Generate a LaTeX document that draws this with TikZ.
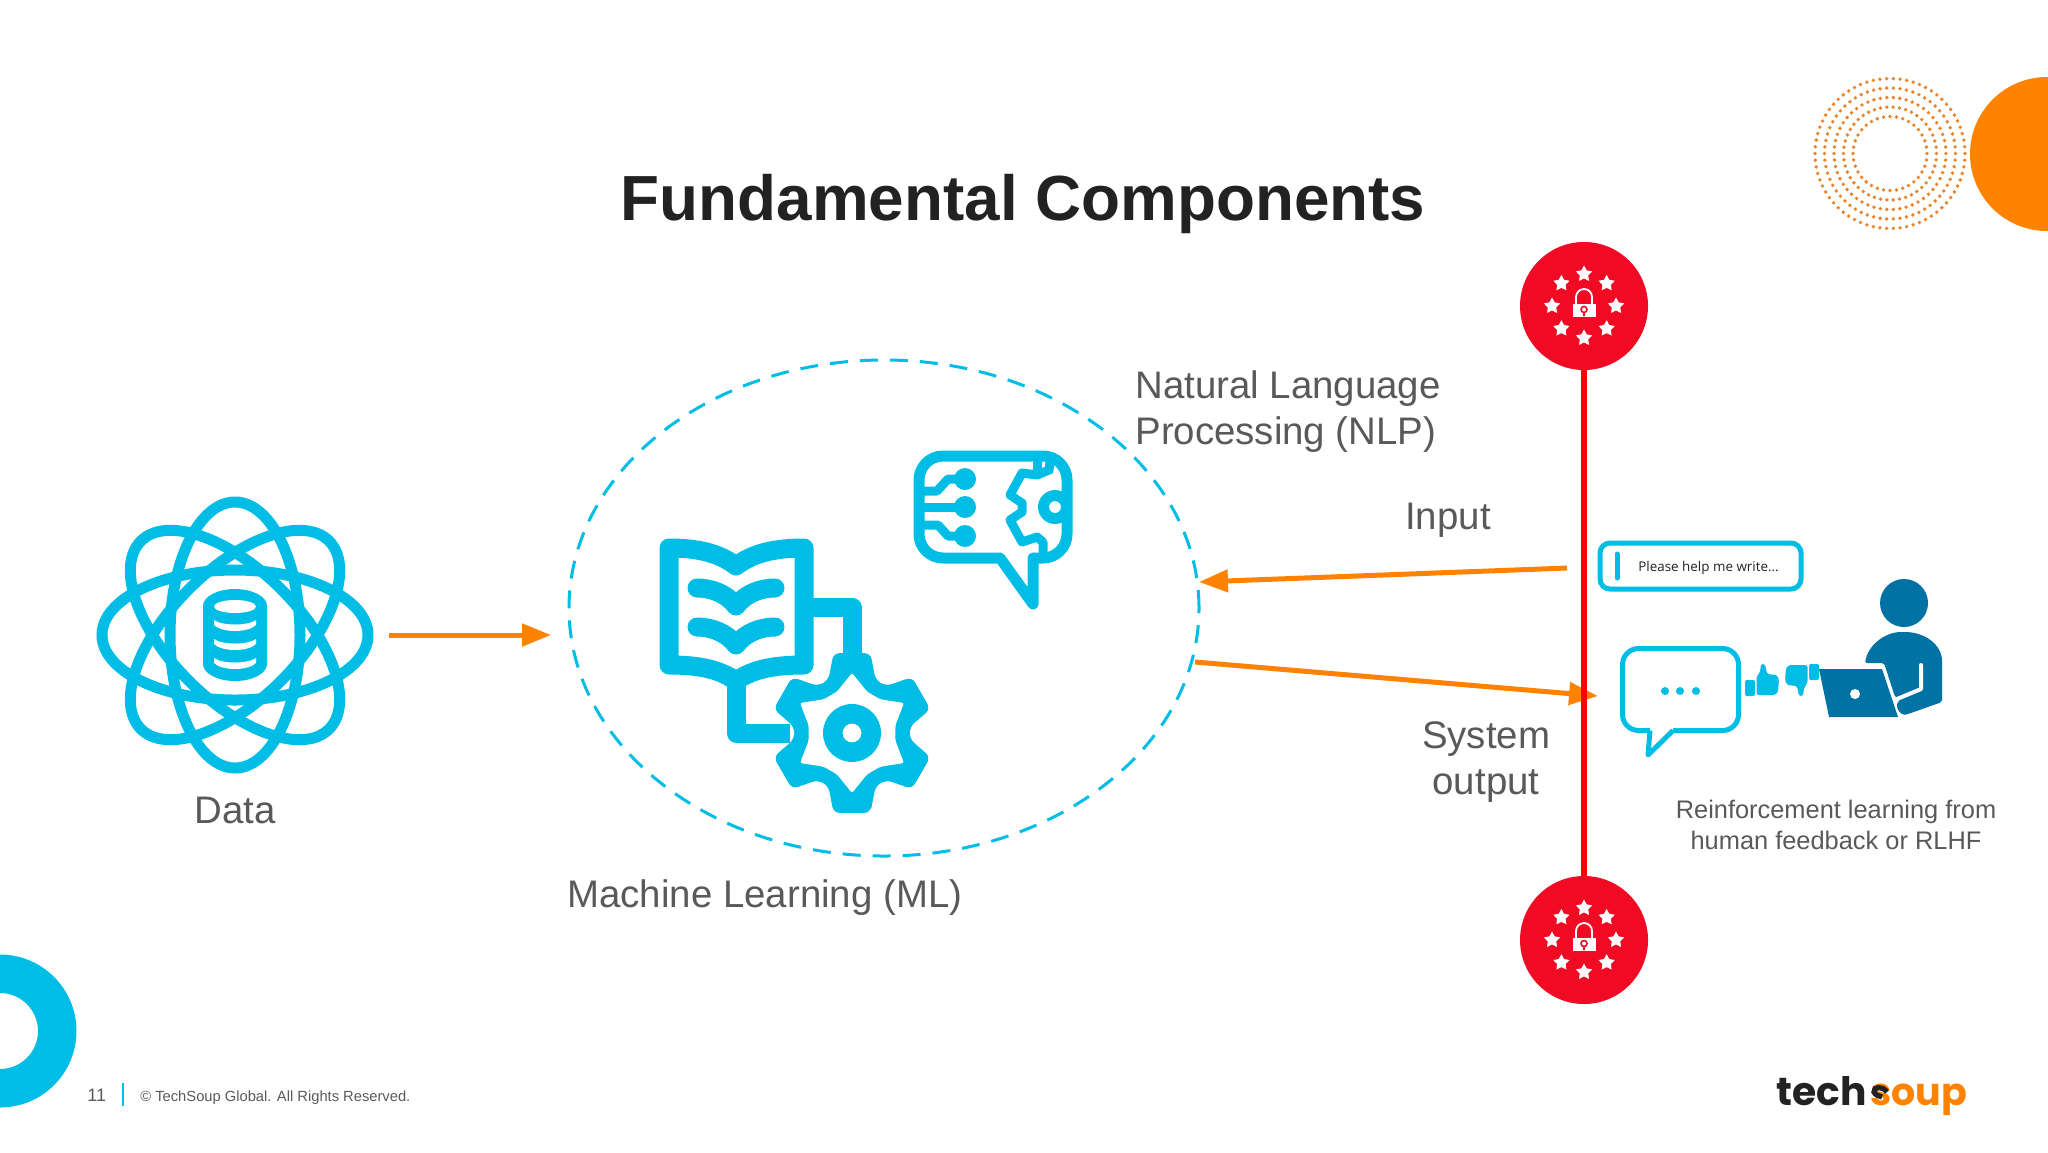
\documentclass[tikz,border=0pt]{standalone}
\usepackage{fontspec}
\setmainfont{Liberation Sans}
\newfontfamily\logofont{Poppins}[Scale=1]
\newfontfamily\promptfont{Open Sans}
\usetikzlibrary{arrows.meta,shapes.geometric,calc}
\definecolor{tsblue}{HTML}{00BDE6}
\definecolor{tsorange}{HTML}{FF8200}
\definecolor{tsdot}{HTML}{E8842A}
\definecolor{tsdeep}{HTML}{0072A3}
\definecolor{tsred}{HTML}{F00A23}
\definecolor{tsgrey}{HTML}{595959}
\definecolor{tsdark}{HTML}{222222}
\tikzset{
    flow/.style={tsorange, line width=2.5pt, -{Triangle[length=14.5pt,width=11pt]}},
    textlabel/.style={tsgrey, font=\fontsize{19.2}{23}\selectfont, inner sep=0pt},
    sealdisc/.style={circle, fill=tsred, minimum size=64pt, inner sep=0pt},
    sealstar/.style={star, star points=5, star point ratio=1.9, fill=white, minimum size=8.5pt, inner sep=0pt},
    seal/.pic={
        \foreach \a in {0,45,...,315} {
            \node[sealstar] (s\a) at (\a:32) {};
        }
        \fill[white] (-11.5,-2) rectangle (11.5,11);
        \draw[white, line width=0.9pt] (-8,-2) -- (-8,-9) arc [start angle=180, end angle=360, radius=8] -- (8,-2);
        \draw[tsred, line width=0.8pt] (0,3.5) circle [radius=3] (0,6.5) -- (0,10);
    },
    thumb/.pic={
        \fill[tsblue, rounded corners=1pt] (-17,0) rectangle (-7,16);
        \fill[tsblue, rounded corners=1.2pt] (-5.5,-3) -- (-2,-8) -- (-1,-16) -- (3,-16) -- (5,-6) -- (15,-5) -- (17,0) -- (16,12) -- (13,15) -- (-5.5,15) -- cycle;
    }
}
\begin{document}
\begin{tikzpicture}[x=0.5pt, y=-0.5pt]
    \clip (0,0) rectangle (2048,1152);
    % Ecken
    \fill[tsorange] (2047,154) circle [radius=77];
    \foreach \r/\n in {75/70, 65.5/62, 56/54, 46.5/46, 37/36} {
        \foreach \i in {1,...,\n} {
            \fill[tsdot] (1890,153.5) ++(\i/\n*360:\r) circle [radius=1.9];
        }
    }
    \fill[tsblue, even odd rule] (0,1031) circle [radius=76.5] (0,1031) circle [radius=38];
    % Titel
    \node[anchor=base, font=\fontsize{31.9}{38}\selectfont\bfseries, text=tsdark, inner sep=0pt] (title) at (1023,220) {Fundamental Components};
    % Data
    \foreach \a in {0,45,90,135} {
        \draw[tsblue, line width=5.5pt] (235,635) ellipse [x radius=133, y radius=65, rotate=\a];
    }
    \fill[tsblue] (203,606) arc [start angle=180, end angle=360, x radius=32, y radius=17] -- (267,664) arc [start angle=0, end angle=180, x radius=32, y radius=17] -- cycle;
    \fill[white] (235,606.5) ellipse [x radius=21, y radius=6.5];
    \foreach \y in {620,639,658} {
        \fill[white] (214,\y) .. controls (222,\y+6) and (248,\y+6) .. (256,\y) -- (256,\y+5) .. controls (248,\y+13) and (222,\y+13) .. (214,\y+5) -- cycle;
    }
    \node[textlabel, anchor=base] (data) at (235,823) {Data};
    \coordinate (dataout) at (389,635);
    \coordinate (mlin) at (551,635);
    \draw[flow] (dataout) -- (mlin);
    % ML
    \node[ellipse, draw=tsblue, line width=1.5pt, dash pattern=on 9pt off 6pt, minimum width=315pt, minimum height=248pt, inner sep=0pt] (ml) at (884,608) {};
    \node[textlabel, anchor=base west] (mltext) at (567,907) {Machine Learning (ML)};
    % Buch
    \draw[tsblue, line width=9.5pt, line join=round] (669,548) .. controls (695,548) and (718,552) .. (736,566) .. controls (754,552) and (778,548) .. (804,548) -- (804,665) .. controls (778,665) and (754,668) .. (736,681) .. controls (718,668) and (695,665) .. (669,665) -- cycle;
    \foreach \y in {588,627} {
        \draw[tsblue, line width=9.5pt, line cap=round, line join=round] (697,\y) .. controls (712,\y) and (727,\y+6) .. (736,\y+18) .. controls (745,\y+6) and (760,\y) .. (775,\y);
    }
    \draw[tsblue, line width=9.5pt, line join=round] (813,607) -- (852,607) -- (852,660);
    \draw[tsblue, line width=9.5pt, line join=round] (736,683) -- (736,733) -- (790,733);
    % Zahnrad
    \fill[tsblue, rounded corners=3pt] (852,733) ++(77:82)
        \foreach \a in {90,150,...,390} {
            -- ($(852,733)+(\a-13:82)$) -- ($(852,733)+(\a+13:82)$) -- ($(852,733)+(\a+24:58)$) -- ($(852,733)+(\a+36:58)$)
        } -- cycle;
    \fill[white, rounded corners=1pt] (852,733) ++(90:60)
        \foreach \a in {90,150,...,390} {
            -- ($(852,733)+(\a:60)$) -- ($(852,733)+(\a+20:44)$) -- ($(852,733)+(\a+40:44)$)
        } -- cycle;
    \fill[tsblue, even odd rule] (852,733) circle [radius=29] (852,733) circle [radius=9.5];
    % NLP
    \begin{scope}
        \clip[rounded corners=12pt] (919,456) rectangle (1067,559);
        \fill[tsblue, even odd rule] (1055,507) circle [radius=17] (1055,507) circle [radius=6];
        \draw[tsblue, line width=4.5pt, line join=round] (1038,458) -- (1037,475) -- (1022,473) -- (1010,495) -- (1022,503) -- (1022,512) -- (1010,520) -- (1022,542) -- (1037,537) -- (1043,542) -- (1043,556);
        \draw[tsblue, line width=4.5pt] (1050,462) -- (1049,470) -- (1037,475);
    \end{scope}
    \draw[tsblue, line width=5.5pt, line join=round, rounded corners=12pt] (1000,558) -- (919,558) -- (919,456) -- (1067,456) -- (1067,558) -- (1033,558);
    \draw[tsblue, line width=5.5pt, line join=round, line cap=round] (1000,558) -- (1033,604) -- (1033,558);
    \draw[tsblue, line width=4.5pt, line join=round] (922,491) -- (937,491) -- (948,479) -- (965,479);
    \draw[tsblue, line width=4.5pt] (922,507) -- (965,507);
    \draw[tsblue, line width=4.5pt, line join=round] (922,525) -- (938,525) -- (948,536) -- (965,536);
    \foreach \y in {479,507,536} {
        \fill[tsblue] (965,\y) circle [radius=11];
    }
    \node[textlabel, anchor=base west, align=left] (nlp) at (1135,444) {Natural Language\\Processing (NLP)};
    % Pfeile
    \coordinate (inputout) at (1567,568);
    \coordinate (inputin) at (1199,582);
    \coordinate (outputout) at (1195,662);
    \coordinate (outputin) at (1598,696);
    \draw[flow] (inputout) -- (inputin);
    \draw[flow] (outputout) -- (outputin);
    \node[textlabel, anchor=base] (input) at (1448,529) {Input};
    \node[textlabel, anchor=base, align=center] (output) at (1486,794) {System\\output};
    % Siegel
    \node[sealdisc] (sealtop) at (1584,306) {};
    \node[sealdisc] (sealbot) at (1584,940) {};
    \draw[red, line width=3pt] (sealtop) -- (sealbot);
    \pic (sealA) at (1584,306) {seal};
    \pic (sealB) at (1584,940) {seal};
    % Eingabe
    \draw[tsblue, line width=2.5pt, rounded corners=5pt] (1600,543) rectangle (1801,589);
    \draw[tsblue, line width=2.5pt, line cap=round] (1617,554) -- (1617,578);
    \node[anchor=west, font=\promptfont\fontsize{6.7}{8}\selectfont, text=tsdark, inner sep=0pt] (prompt) at (1638,568) {Please help me write...};
    % Antwort
    \draw[tsblue, line width=2.5pt, line join=round, rounded corners=8pt] (1650,730.5) -- (1622.5,730.5) -- (1622.5,648.5) -- (1738.5,648.5) -- (1738.5,730.5) -- (1673,730.5);
    \draw[tsblue, line width=2.5pt, line join=round] (1650,730.5) -- (1648,755) -- (1673,730.5);
    \foreach \x in {1665,1680,1696} {
        \fill[tsblue] (\x,691) circle [radius=4];
    }
    \pic at (1762,680) {thumb};
    \pic[rotate=180] at (1802,680) {thumb};
    % Person
    \fill[tsdeep] (1904,603) circle [radius=24];
    \fill[tsdeep, rounded corners=1pt] (1865,663) .. controls (1868,645) and (1885,632) .. (1903,632) .. controls (1925,632) and (1942,645) .. (1942,663) -- (1942,702) -- (1908,714) .. controls (1900,716) and (1894,706) .. (1900,700) -- (1895,697) -- (1884,663) -- cycle;
    \draw[white, line width=2pt, line cap=round, line join=round] (1921,665) -- (1921,689) -- (1897,699);
    \fill[tsdeep] (1819,669) -- (1882,669) -- (1898,717) -- (1829,717) -- cycle;
    \fill[white] (1855,694) circle [radius=5];
    \node[textlabel, anchor=base, align=center, font=\fontsize{12.7}{15.5}\selectfont] (rlhf) at (1836,849) {Reinforcement learning from\\human feedback or RLHF};
    % Fusszeile
    \node[anchor=base west, font=\fontsize{9}{11}\selectfont, text=tsgrey, inner sep=0pt] (page) at (87,1101) {11};
    \coordinate (sepa) at (123,1083);
    \coordinate (sepb) at (123,1106);
    \draw[tsblue, line width=0.8pt] (sepa) -- (sepb);
    \node[anchor=base west, font=\fontsize{7.36}{10}\selectfont, text=tsgrey, inner sep=0pt] (copy) at (140,1101) {\textcopyright{} TechSoup Global. All Rights Reserved.};
    % Logo
    \node[anchor=base west, font=\logofont\bfseries\fontsize{19.6}{24}\selectfont, text=tsdark, inner sep=0pt] (logoa) at (1776,1105) {tech};
    \node[anchor=base west, font=\logofont\bfseries\fontsize{19}{24}\selectfont, text=tsorange, inner sep=0pt] (logob) at (1870,1105) {soup};
    \draw[tsdark, line width=2.6pt] (1887,1092) .. controls (1883,1086) and (1873,1086) .. (1874,1092) .. controls (1875,1095) and (1879,1096) .. (1882,1097);
\end{tikzpicture}
\end{document}
